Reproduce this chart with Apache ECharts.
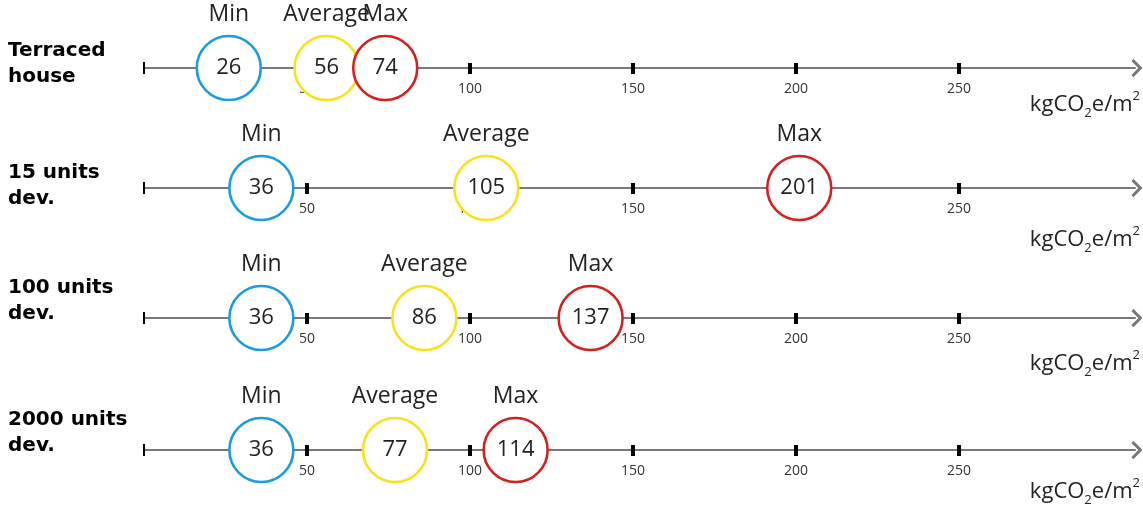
<!DOCTYPE html>
<html>
<head>
<meta charset="utf-8">
<script src="https://cdn.jsdelivr.net/npm/echarts@6/dist/echarts.min.js"></script>
<style>
  html, body { margin: 0; padding: 0; background: #fff; }
</style>
</head>
<body>
<div id="main" style="width:1143px;height:507px;"></div>
<script>
// data
const rowNames = ['Terraced\nhouse', '15 units\ndev.', '100 units\ndev.', '2000 units\ndev.'];
const statNames = ['Min', 'Average', 'Max'];
const minVals = [26, 36, 36, 36];
const avgVals = [56, 105, 86, 77];
const maxVals = [74, 201, 137, 114];
const tickVals = [50, 100, 150, 200, 250];
const unitText = '{b|kgCO}{sub|2}{b|e/m}{sup|2}';

// layout
const axisY = [68, 188, 318, 450];
const nameTop = [38, 160, 275, 407];
const unitTop = [90, 225, 349, 477];
const statColors = ['#1b9ce0', '#f6e31a', '#d2211f'];
const AXIS_MAX = 304;

var myChart = echarts.init(document.getElementById('main'));

var grid = [], xAxis = [], yAxis = [], series = [], title = [], graphic = [];
var arrow = 'path://M0,10 L10,0 L20,10 L17.5,12 L10,4.5 L2.5,12 Z';

rowNames.forEach(function (name, i) {
  grid.push({ left: 144, right: 8, top: axisY[i] - 40, height: 40 });
  // main axis: dotted line, labels, arrow
  xAxis.push({
    type: 'value', gridIndex: i, position: 'bottom', min: 0, max: AXIS_MAX,
    axisLine: {
      show: true,
      symbol: ['none', arrow],
      symbolSize: [21, 11],
      symbolOffset: [0, 2],
      lineStyle: { color: '#777', width: 2, type: [2, 1] }
    },
    axisTick: { show: false },
    splitLine: { show: false },
    axisLabel: {
      customValues: tickVals,
      margin: 14,
      fontSize: 14,
      fontFamily: 'Open Sans',
      color: '#333'
    }
  });
  // thick ticks
  xAxis.push({
    type: 'value', gridIndex: i, position: 'bottom', min: 0, max: AXIS_MAX, offset: -5,
    axisLine: { show: false },
    axisTick: { show: true, customValues: tickVals, length: 11, lineStyle: { color: '#000', width: 4 } },
    axisLabel: { show: false },
    splitLine: { show: false }
  });
  // thin zero tick
  xAxis.push({
    type: 'value', gridIndex: i, position: 'bottom', min: 0, max: AXIS_MAX, offset: -6,
    axisLine: { show: false },
    axisTick: { show: true, customValues: [0], length: 12, lineStyle: { color: '#000', width: 2 } },
    axisLabel: { show: false },
    splitLine: { show: false }
  });
  yAxis.push({ type: 'value', gridIndex: i, min: 0, max: 1, show: false });

  var vals = [minVals[i], avgVals[i], maxVals[i]];
  series.push({
    type: 'scatter',
    xAxisIndex: i * 3,
    yAxisIndex: i,
    clip: false,
    symbol: 'circle',
    symbolSize: 64,
    silent: true,
    z: 5,
    data: vals.map(function (v, k) {
      return {
        value: [v, 0],
        itemStyle: { color: '#fff', borderColor: statColors[k], borderWidth: 2.6, opacity: 1 }
      };
    }),
    label: {
      show: true,
      position: 'inside',
      formatter: function (p) {
        return '{n|' + statNames[p.dataIndex] + '}\n{v|' + p.value[0] + '}\n{n| }';
      },
      rich: {
        n: { fontSize: 23, lineHeight: 54, fontFamily: 'Open Sans', color: '#222' },
        v: { fontSize: 22, lineHeight: 54, fontFamily: 'Open Sans', color: '#222' }
      }
    }
  });

  title.push({
    text: name,
    left: 8,
    top: nameTop[i],
    padding: 0,
    textStyle: { fontFamily: 'DejaVu Sans', fontWeight: 'bold', fontSize: 20, lineHeight: 26, color: '#000' }
  });

  graphic.push({
    type: 'text',
    right: 3,
    top: unitTop[i],
    style: {
      text: unitText,
      rich: {
        b: { fontSize: 22, fontFamily: 'Open Sans', fill: '#222', lineHeight: 30 },
        sub: { fontSize: 13, fontFamily: 'Open Sans', fill: '#222', verticalAlign: 'bottom', lineHeight: 30 },
        sup: { fontSize: 13, fontFamily: 'Open Sans', fill: '#222', verticalAlign: 'top', lineHeight: 30 }
      }
    }
  });
});

var option = {
  animation: false,
  title: title,
  grid: grid,
  xAxis: xAxis,
  yAxis: yAxis,
  series: series,
  graphic: graphic
};
myChart.setOption(option);
</script>
</body>
</html>
